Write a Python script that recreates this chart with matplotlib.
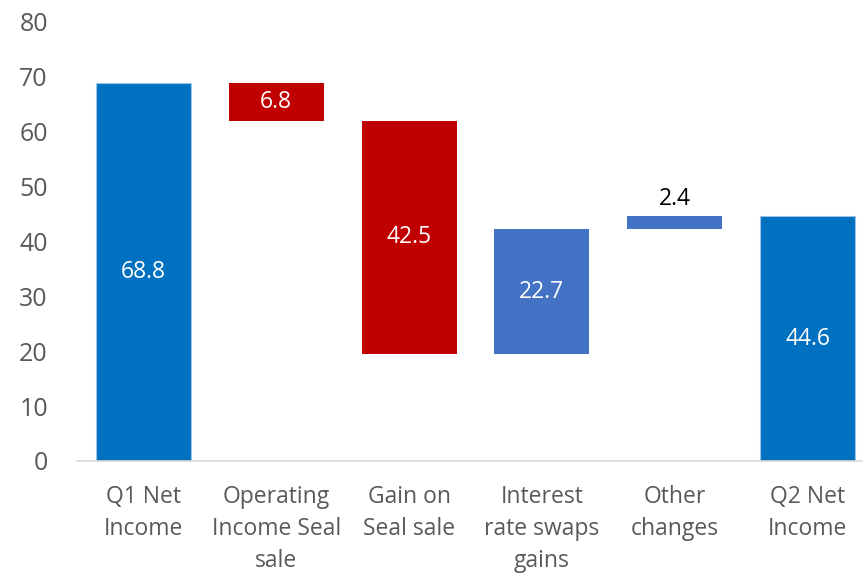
import numpy as np
import matplotlib
matplotlib.use("Agg")
import matplotlib.pyplot as plt

# ---- data ----
categories = ["Q1 Net\nIncome", "Operating\nIncome Seal\nsale", "Gain on\nSeal sale",
              "Interest\nrate swaps\ngains", "Other\nchanges", "Q2 Net\nIncome"]
changes = [68.8, -6.8, -42.5, 22.7, 2.4, 44.6]
kinds = ["total", "down", "down", "up", "up", "total"]

TOTAL_COLOR = "#0070C0"
DOWN_COLOR = "#C00000"
UP_COLOR = "#4472C4"

plt.rcParams["font.family"] = ["Open Sans", "DejaVu Sans"]

# compute bottoms / heights
bottoms, heights = [], []
running = 0.0
for val, kind in zip(changes, kinds):
    if kind == "total":
        bottoms.append(0.0)
        heights.append(val)
        running = val
    elif kind == "down":
        running_new = running + val
        bottoms.append(running_new)
        heights.append(-val)
        running = running_new
    else:
        bottoms.append(running)
        heights.append(val)
        running = running + val

colors = [TOTAL_COLOR if k == "total" else DOWN_COLOR if k == "down" else UP_COLOR for k in kinds]

fig = plt.figure(figsize=(8.63, 5.74), dpi=100)
# axes runs slightly past the right edge, as in the cropped original
ax = fig.add_axes([0.0892, 0.197, 0.9235, 0.765])

x = np.arange(len(categories))
bars = ax.bar(x, heights, bottom=bottoms, width=0.715, color=colors)
for b, k in zip(bars, kinds):
    if k == "total":
        b.set_edgecolor("#9DC3E6")
        b.set_linewidth(0.8)

# data labels
for i, (bot, h, val) in enumerate(zip(bottoms, heights, changes)):
    txt = f"{abs(val):.1f}"
    if h < 4:
        ax.text(x[i], bot + h + 0.9, txt, ha="center", va="bottom", fontsize=16.5, color="black")
    else:
        ax.text(x[i], bot + h / 2, txt, ha="center", va="center", fontsize=16.5, color="white")

ax.set_xlim(-0.5, len(categories) - 0.5)
ax.set_ylim(0, 80)
ax.set_yticks(np.arange(0, 81, 10))
ax.set_xticks(x)
ax.set_xticklabels(categories, fontsize=16.5, color="#595959", linespacing=1.45)
ax.tick_params(axis="y", labelsize=18, colors="#595959", length=0, pad=21)
ax.tick_params(axis="x", length=0, pad=17)

for s in ["top", "right", "left"]:
    ax.spines[s].set_visible(False)
ax.spines["bottom"].set_color("#D9D9D9")
ax.spines["bottom"].set_linewidth(1.2)

fig.savefig("out.png", dpi=100)
